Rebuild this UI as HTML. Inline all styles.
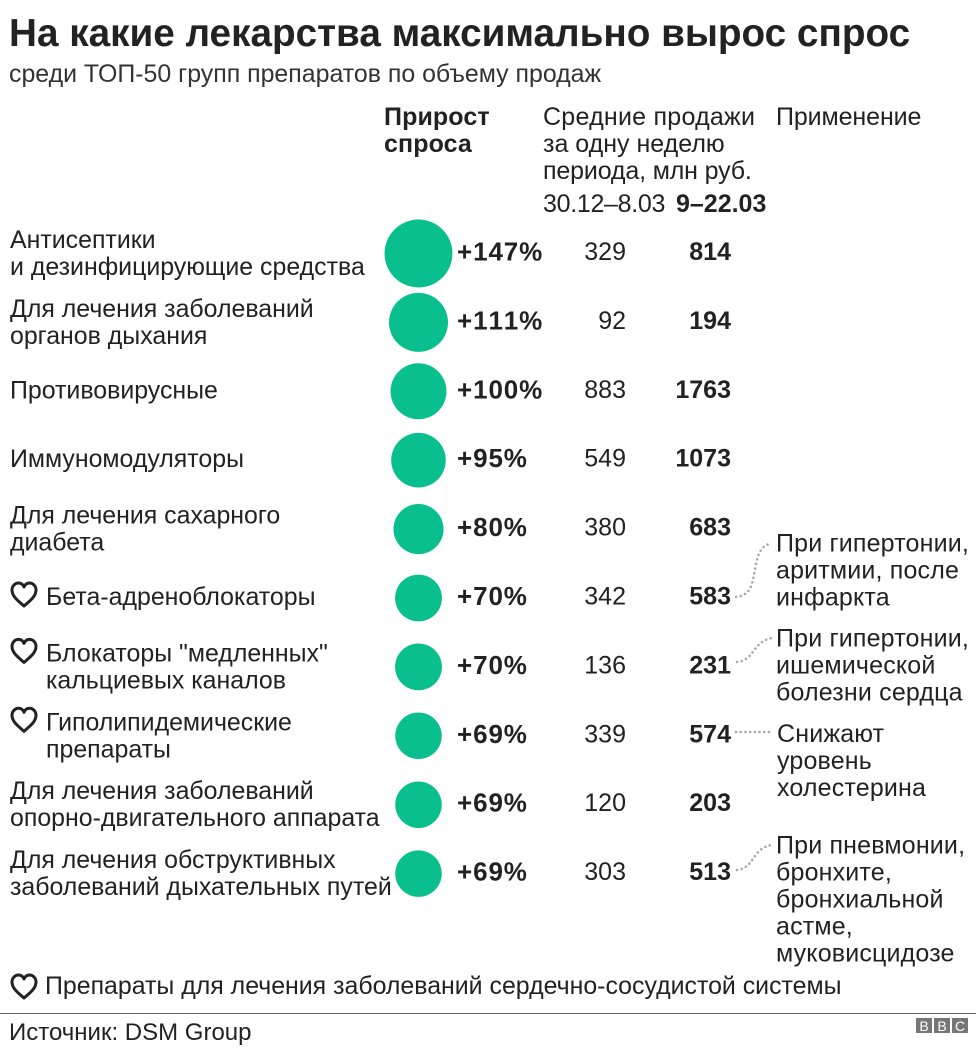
<!DOCTYPE html>
<html lang="ru">
<head>
<meta charset="utf-8">
<title>На какие лекарства максимально вырос спрос</title>
<style>
html,body{margin:0;padding:0;background:#fff;width:976px;height:1050px;overflow:hidden}
svg{display:block}
text{font-family:"Liberation Sans",Arial,sans-serif;fill:#222;font-size:25px}
.b{font-weight:700}
.title{font-size:38.7px;font-weight:700;fill:#222}
.sub{font-size:24.9px;fill:#333}
.lab{font-size:24.9px}
.pct{font-size:26px;letter-spacing:.9px;font-kerning:none}
.num{font-kerning:none}
.note{letter-spacing:.17px}
.dots{fill:none;stroke:#aaa;stroke-width:2.6;stroke-dasharray:0.1 4.6;stroke-linecap:round}
.heart{fill:none;stroke:#222;stroke-width:3;stroke-linejoin:round}
</style>
</head>
<body>
<svg id="chart" xmlns="http://www.w3.org/2000/svg" width="976" height="1050" viewBox="0 0 976 1050">
  <text class="title" x="9" y="46">На какие лекарства максимально вырос спрос</text>
  <text class="sub" x="9" y="82">среди ТОП-50 групп препаратов по объему продаж</text>
  <g>
    <text class="b" x="384" y="125" style="letter-spacing:.1px">Прирост</text>
    <text class="b" x="384" y="152" style="letter-spacing:.1px">спроса</text>
  </g>
  <g>
    <text x="543" y="125" style="letter-spacing:.25px">Средние продажи</text>
    <text x="543" y="152">за одну неделю</text>
    <text x="543" y="179" style="letter-spacing:-.15px">периода, млн руб.</text>
    <text x="543" y="212" style="letter-spacing:-.3px">30.12–8.03</text>
    <text class="b" x="676" y="212">9–22.03</text>
  </g>
  <text x="776" y="125" style="letter-spacing:-.1px">Применение</text>
  <g id="rows"></g>
  <g id="notes" class="note">
    <g>
      <path class="dots" d="M736 597 C752 595 752 583 755 570 C757 556 760 547 769 544"/>
      <text x="776" y="551.5">При гипертонии,</text>
      <text x="776" y="578.5">аритмии, после</text>
      <text x="776" y="605.5">инфаркта</text>
    </g>
    <g>
      <path class="dots" d="M737 662 C755 660 752 642 772 638"/>
      <text x="776" y="646.5">При гипертонии,</text>
      <text x="776" y="673.5">ишемической</text>
      <text x="776" y="700.5">болезни сердца</text>
    </g>
    <g>
      <path class="dots" d="M736 732 L771 732"/>
      <text x="777" y="742">Снижают</text>
      <text x="777" y="769">уровень</text>
      <text x="777" y="796">холестерина</text>
    </g>
    <g>
      <path class="dots" d="M737 870 C755 868 752 848 772 845"/>
      <text x="776" y="853.5">При пневмонии,</text>
      <text x="776" y="880.5">бронхите,</text>
      <text x="776" y="907.5">бронхиальной</text>
      <text x="776" y="934.5">астме,</text>
      <text x="776" y="961.5">муковисцидозе</text>
    </g>
  </g>
  <g>
    <path class="heart" d="M24 998 C17 992 12 988 12 982 C12 978 15 975 18.5 975 C21 975 23 976.5 24 979 C25 976.5 27 975 29.5 975 C33 975 36 978 36 982 C36 988 31 992 24 998 Z"/>
    <text class="lab" x="45" y="994">Препараты для лечения заболеваний сердечно-сосудистой системы</text>
  </g>
  <line x1="0" y1="1013.5" x2="976" y2="1013.5" stroke="#666" stroke-width="1"/>
  <text x="9" y="1040" style="font-size:24px">Источник: DSM Group</text>
  <g>
    <rect x="916" y="1018" width="16" height="15" fill="#777"/>
    <rect x="934" y="1018" width="16" height="15" fill="#777"/>
    <rect x="952" y="1018" width="16" height="15" fill="#777"/>
    <text x="924" y="1031" text-anchor="middle" style="font-size:14px;fill:#fff">B</text>
    <text x="942" y="1031" text-anchor="middle" style="font-size:14px;fill:#fff">B</text>
    <text x="960" y="1031" text-anchor="middle" style="font-size:14px;fill:#fff">C</text>
  </g>
</svg>
<script>
const categories = [
  ["Антисептики", "и дезинфицирующие средства"],
  ["Для лечения заболеваний", "органов дыхания"],
  ["Противовирусные"],
  ["Иммуномодуляторы"],
  ["Для лечения сахарного", "диабета"],
  ["Бета-адреноблокаторы"],
  ["Блокаторы \"медленных\"", "кальциевых каналов"],
  ["Гиполипидемические", "препараты"],
  ["Для лечения заболеваний", "опорно-двигательного аппарата"],
  ["Для лечения обструктивных", "заболеваний дыхательных путей"]
];
const growth = [147, 111, 100, 95, 80, 70, 70, 69, 69, 69];
const salesBefore = [329, 92, 883, 549, 380, 342, 136, 339, 120, 303];
const salesAfter = [814, 194, 1763, 1073, 683, 583, 231, 574, 203, 513];
const cardio = [false, false, false, false, false, true, true, true, false, false];

const NS = 'http://www.w3.org/2000/svg';
const rowsG = document.getElementById('rows');
function rowY(i) { return 253.5 + i * 68.9; }
function radius(v) { return 2.8 * Math.sqrt(v); }
function addText(parent, x, y, str, cls, anchor) {
  const t = document.createElementNS(NS, 'text');
  t.setAttribute('x', x);
  t.setAttribute('y', y);
  if (cls) t.setAttribute('class', cls);
  if (anchor) t.setAttribute('text-anchor', anchor);
  t.textContent = str;
  parent.appendChild(t);
  return t;
}
categories.forEach(function (lines, i) {
  const y = rowY(i);
  const g = document.createElementNS(NS, 'g');
  
  
  const lx = cardio[i] ? 46 : 10;
  if (lines.length === 1) {
    const lab = addText(g, lx, y + 7, lines[0], 'lab');
    
    
  } else {
    const l1 = addText(g, lx, y - 5.5, lines[0], 'lab');
    
    
    const l2 = addText(g, lx, y + 21.5, lines[1], 'lab');
    
    
  }
  if (cardio[i]) {
    const top = lines.length === 1 ? y - 15 : y - 27.5;
    const h = document.createElementNS(NS, 'path');
    h.setAttribute('d', 'M24 ' + (top + 23) + ' C17 ' + (top + 17) + ' 12 ' + (top + 13) + ' 12 ' + (top + 7) + ' C12 ' + (top + 3) + ' 15 ' + top + ' 18.5 ' + top + ' C21 ' + top + ' 23 ' + (top + 1.5) + ' 24 ' + (top + 4) + ' C25 ' + (top + 1.5) + ' 27 ' + top + ' 29.5 ' + top + ' C33 ' + top + ' 36 ' + (top + 3) + ' 36 ' + (top + 7) + ' C36 ' + (top + 13) + ' 31 ' + (top + 17) + ' 24 ' + (top + 23) + ' Z');
    h.setAttribute('class', 'heart');
    
    
    g.appendChild(h);
  }
  const c = document.createElementNS(NS, 'circle');
  c.setAttribute('cx', 418.5);
  c.setAttribute('cy', y);
  c.setAttribute('r', radius(growth[i]));
  c.setAttribute('fill', '#0abf8e');
  
  
  g.appendChild(c);
  const p = addText(g, 457, y + 7, '+' + growth[i] + '%', 'b pct');
  
  
  const s1 = addText(g, 626, y + 6.5, String(salesBefore[i]), 'num', 'end');
  
  
  const s2 = addText(g, 731, y + 6.5, String(salesAfter[i]), 'b num', 'end');
  
  
  rowsG.appendChild(g);
});
</script>
</body>
</html>
